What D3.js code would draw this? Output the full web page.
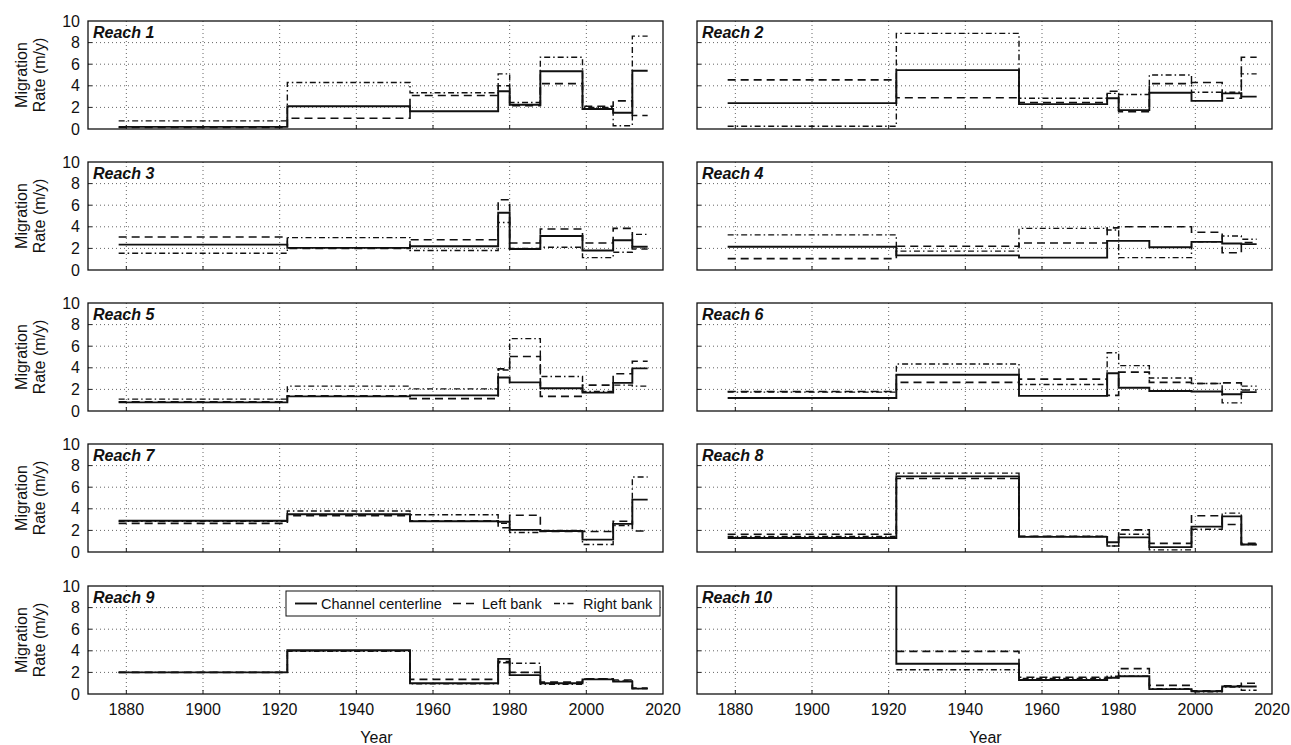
<!DOCTYPE html>
<html>
<head>
<meta charset="utf-8">
<script src="https://cdn.jsdelivr.net/npm/d3@7"></script>
<style>
  body { margin: 0; background: #fff; }
  svg text { font-family: "Liberation Sans", Arial, sans-serif; fill: #111; }
</style>
</head>
<body>
<div id="chart"></div>
<script>
// step boundaries (years) shared by all reaches
const years = [1878, 1922, 1954, 1977, 1980, 1988, 1999, 2007, 2012, 2016];
const reaches = ["Reach 1", "Reach 2", "Reach 3", "Reach 4", "Reach 5",
                 "Reach 6", "Reach 7", "Reach 8", "Reach 9", "Reach 10"];
const xTicks = [1880, 1900, 1920, 1940, 1960, 1980, 2000, 2020];
const yTicks = [0, 2, 4, 6, 8, 10];

// migration rate (m/y) per interval, one row per reach
const centerline = [
  [0.2, 2.1, 1.65, 3.5, 2.25, 5.35, 1.85, 1.5, 5.4],
  [2.4, 5.45, 2.3, 2.85, 1.75, 3.35, 2.6, 3.3, 3.0],
  [2.35, 2.05, 2.2, 5.3, 1.95, 3.15, 1.8, 2.75, 2.15],
  [2.15, 1.35, 1.15, 2.7, 2.7, 2.1, 2.6, 2.45, 2.4],
  [0.8, 1.35, 1.45, 3.1, 2.65, 2.1, 1.7, 2.6, 3.95],
  [1.2, 3.35, 1.4, 3.5, 2.15, 1.85, 1.8, 1.55, 1.75],
  [2.9, 3.5, 2.85, 2.8, 2.05, 1.95, 1.15, 2.6, 4.85],
  [1.3, 7.0, 1.4, 0.9, 1.35, 0.45, 2.35, 3.3, 0.7],
  [2.0, 4.05, 1.0, 3.25, 1.75, 1.0, 1.35, 1.15, 0.5],
  [14, 2.8, 1.3, 1.5, 1.65, 0.45, 0.25, 0.7, 0.7]
];
const leftBank = [
  [0.15, 1.0, 3.1, 4.0, 2.15, 4.2, 2.1, 2.6, 1.25],
  [4.55, 2.9, 2.45, 3.5, 1.6, 4.2, 4.3, 2.85, 6.65],
  [3.05, 2.0, 2.8, 6.5, 2.5, 3.8, 2.5, 3.85, 1.95],
  [1.05, 2.2, 2.5, 3.9, 4.0, 4.0, 3.5, 1.6, 2.55],
  [0.85, 1.4, 1.15, 3.9, 5.05, 1.35, 2.4, 3.45, 4.6],
  [1.8, 2.65, 2.95, 1.45, 3.6, 2.65, 2.55, 2.6, 1.95],
  [2.65, 3.35, 2.9, 2.25, 3.4, 1.9, 1.9, 2.85, 1.95],
  [1.65, 6.8, 1.45, 0.55, 2.05, 0.8, 3.35, 2.55, 0.8],
  [2.0, 4.0, 1.35, 3.0, 2.0, 1.1, 1.4, 1.3, 0.55],
  [null, 3.95, 1.55, 1.5, 2.35, 0.8, 0.3, 0.75, 1.0]
];
const rightBank = [
  [0.75, 4.3, 3.35, 5.1, 2.45, 6.65, 2.0, 0.3, 8.6],
  [0.25, 8.85, 2.85, 3.3, 3.2, 5.0, 3.4, 3.4, 5.1],
  [1.55, 3.0, 1.8, 4.4, 2.0, 2.1, 1.15, 1.65, 3.3],
  [3.25, 1.75, 3.85, 3.7, 1.15, 1.15, 2.6, 3.15, 2.85],
  [1.1, 2.3, 2.05, 3.8, 6.7, 3.2, 1.8, 2.4, 2.3],
  [1.75, 4.35, 2.45, 5.4, 4.2, 3.05, 2.55, 0.75, 2.3],
  [2.85, 3.8, 3.45, 2.65, 1.8, 2.0, 0.7, 2.45, 6.95],
  [1.45, 7.3, 1.45, 0.55, 1.65, 0.2, 2.1, 3.6, 0.7],
  [2.0, 3.95, 0.95, 2.9, 2.85, 0.9, 1.4, 1.2, 0.5],
  [null, 2.25, 1.45, 1.65, 1.65, 0.5, 0.2, 0.65, 0.35]
];

const seriesNames = ["Channel centerline", "Left bank", "Right bank"];
const seriesData = [centerline, leftBank, rightBank];
const dashes = ["none", "8,5", "6,3,1.5,3"];
const widths = [1.9, 1.6, 1.4];

const W = 1291, H = 745;
const panelW = 575, panelH = 108;
const colX = [88, 697];
const rowY = [21, 162, 303, 444, 586];

const svg = d3.select("#chart").append("svg")
  .attr("width", W).attr("height", H);

const x = d3.scaleLinear().domain([1870, 2020]).range([0, panelW]);
const y = d3.scaleLinear().domain([0, 10]).range([panelH, 0]);

const line = d3.line()
  .defined(d => d[1] != null)
  .x(d => x(d[0]))
  .y(d => y(d[1]))
  .curve(d3.curveStepAfter);

reaches.forEach((name, r) => {
  const col = r % 2, row = Math.floor(r / 2);
  const g = svg.append("g")
    .attr("transform", `translate(${colX[col]},${rowY[row]})`);

  g.append("clipPath").attr("id", "clip" + r)
    .append("rect").attr("width", panelW).attr("height", panelH);

  // dotted grid
  g.selectAll(".vgrid").data(xTicks.slice(0, -1)).enter().append("line")
    .attr("x1", d => x(d)).attr("x2", d => x(d))
    .attr("y1", 0).attr("y2", panelH)
    .attr("stroke", "#666").attr("stroke-width", 1)
    .attr("stroke-dasharray", "1,3");
  g.selectAll(".hgrid").data(yTicks.slice(1, -1)).enter().append("line")
    .attr("x1", 0).attr("x2", panelW)
    .attr("y1", d => y(d)).attr("y2", d => y(d))
    .attr("stroke", "#666").attr("stroke-width", 1)
    .attr("stroke-dasharray", "1,3");

  // inward ticks
  g.selectAll(".xt").data(xTicks.slice(0, -1)).enter().append("line")
    .attr("x1", d => x(d)).attr("x2", d => x(d))
    .attr("y1", panelH).attr("y2", panelH - 4)
    .attr("stroke", "#222");
  g.selectAll(".yt").data(yTicks.slice(1, -1)).enter().append("line")
    .attr("x1", 0).attr("x2", 4)
    .attr("y1", d => y(d)).attr("y2", d => y(d))
    .attr("stroke", "#222");

  // step lines
  const lines = g.append("g").attr("clip-path", `url(#clip${r})`);
  seriesData.forEach((s, k) => {
    const vals = s[r];
    const pts = years.map((yr, i) => [yr, vals[Math.min(i, vals.length - 1)]]);
    lines.append("path")
      .attr("d", line(pts))
      .attr("fill", "none")
      .attr("stroke", "#111")
      .attr("stroke-width", widths[k])
      .attr("stroke-dasharray", dashes[k]);
  });

  g.append("rect")
    .attr("width", panelW).attr("height", panelH)
    .attr("fill", "none").attr("stroke", "#111").attr("stroke-width", 1.3);

  g.append("text")
    .attr("x", 5).attr("y", 17)
    .style("font-weight", "bold").style("font-style", "italic")
    .style("font-size", "16px")
    .text(name);

  if (col === 0) {
    g.selectAll(".ylab").data(yTicks).enter().append("text")
      .attr("x", -8).attr("y", d => y(d)).attr("dy", "0.35em")
      .attr("text-anchor", "end").style("font-size", "16px")
      .text(d => d);
    const t = g.append("text")
      .attr("transform", `translate(-61,${panelH / 2}) rotate(-90)`)
      .attr("text-anchor", "middle").style("font-size", "16px");
    t.append("tspan").attr("x", 0).attr("dy", "0em").text("Migration");
    t.append("tspan").attr("x", 0).attr("dy", "1.12em").text("Rate (m/y)");
  }

  if (row === 4) {
    g.selectAll(".xlab").data(xTicks).enter().append("text")
      .attr("x", d => x(d)).attr("y", panelH + 21)
      .attr("text-anchor", "middle").style("font-size", "16px")
      .text(d => d);
    g.append("text")
      .attr("x", panelW / 2 + 1).attr("y", panelH + 49)
      .attr("text-anchor", "middle").style("font-size", "16px")
      .text("Year");
  }

  // legend in Reach 9
  if (r === 8) {
    const lg = g.append("g").attr("transform", `translate(198,5)`);
    lg.append("rect").attr("width", 374).attr("height", 25)
      .attr("fill", "#fff").attr("stroke", "#111").attr("stroke-width", 1);
    const items = [{x: 9, tx: 35}, {x: 167, tx: 196}, {x: 268, tx: 297}];
    seriesNames.forEach((n, k) => {
      lg.append("line")
        .attr("x1", items[k].x).attr("x2", items[k].x + 22)
        .attr("y1", 12.5).attr("y2", 12.5)
        .attr("stroke", "#111").attr("stroke-width", widths[k])
        .attr("stroke-dasharray", dashes[k]);
      lg.append("text")
        .attr("x", items[k].tx).attr("y", 12.5).attr("dy", "0.35em")
        .style("font-size", "14.5px").text(n);
    });
  }
});
</script>
</body>
</html>
